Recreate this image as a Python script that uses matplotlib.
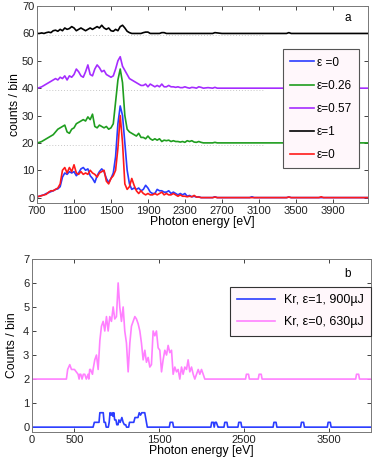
#!/usr/bin/env python3
"""Photon energy spectra, two panels (a: ellipticity scan, b: Kr)."""

import matplotlib.pyplot as plt

plt.rcParams["font.family"] = ["Liberation Sans", "DejaVu Sans"]
plt.rcParams["font.size"] = 8

# ---- panel a: 25 eV grid from 700 to 2500 eV, then sparse tail points
energy_a = list(range(700, 2501, 25))
tail_a = [2550, 2600, 2625, 2650, 2700, 3000, 3025, 3050,
          3400, 3425, 3450, 3750, 3775, 3800, 4280]

eps0_blue = [0.3, 0.5, 0.8, 1.0, 1.5, 1.8, 2.2, 2.5, 3.0, 3.2,
             4.0, 7.5, 9.0, 8.5, 9.5, 9.0, 9.5, 8.0, 9.0, 10.5,
             11.0, 10.0, 10.5, 8.0, 7.0, 5.5, 8.0, 9.5, 10.5, 9.5,
             7.0, 5.5, 7.0, 9.0, 15.0, 27.0, 33.5, 30.0, 20.0, 10.0,
             5.0, 3.0, 3.5, 3.0, 3.5, 2.5, 3.0, 4.5, 3.5, 2.0,
             1.5, 1.5, 3.0, 2.5, 2.5, 2.0, 2.0, 2.5, 1.5, 2.0,
             1.5, 1.0, 1.5, 1.0, 1.5, 0.5, 0.8, 0.3, 0.5, 0.2,
             0.3, 0.0, 0.0]
eps0_blue_tail = [0, 0, 0.3, 0, 0, 0, 0.3, 0, 0, 0.2, 0, 0, 0, 0, 0]

eps026 = [20.0, 20.2, 20.5, 21.0, 21.5, 22.0, 22.5, 23.0, 24.0, 25.0,
          25.5, 26.0, 26.5, 24.0, 23.5, 25.0, 25.5, 27.0, 27.5, 28.0,
          28.5, 28.0, 29.5, 28.5, 30.5, 26.0, 25.5, 26.5, 26.0, 25.5,
          26.0, 25.0, 25.5, 27.0, 35.0, 43.0, 47.0, 42.0, 30.0, 25.0,
          24.0, 23.5, 23.0, 22.5, 23.5, 22.0, 22.0, 21.5, 22.5, 21.5,
          21.0, 21.5, 21.0, 21.5, 20.5, 21.0, 20.8, 21.0, 20.5, 20.8,
          20.5, 20.5, 20.3, 20.5, 20.2, 20.8, 20.5, 20.8, 20.3, 20.2,
          20.5, 20.2, 20.0]
eps026_tail = [20, 20, 20.2, 20, 20, 20, 20, 20, 20, 20.2, 20, 20, 20, 20, 20]

eps057 = [40.0, 40.2, 40.5, 41.0, 41.5, 42.0, 42.5, 43.0, 43.5, 43.0,
          44.0, 43.5, 44.5, 43.0, 44.5, 44.0, 45.0, 47.0, 46.0, 44.5,
          44.0, 46.0, 48.5, 45.0, 44.5, 47.0, 48.5, 47.5, 46.0, 46.5,
          45.0, 44.5, 44.0, 44.5, 47.0, 50.0, 51.5, 48.0, 46.5, 45.0,
          43.5, 43.0, 42.5, 42.0, 41.5, 41.0, 41.0, 41.5, 40.5, 41.5,
          41.0, 40.5, 41.0, 40.5, 41.5, 40.5, 40.5, 41.0, 40.5, 40.5,
          40.3, 40.5, 40.2, 40.2, 40.5, 40.2, 40.0, 40.3, 40.2, 40.0,
          40.5, 40.3, 40.0]
eps057_tail = [40.2, 40, 40.3, 40, 40, 40, 40, 40, 40, 40.2, 40, 40, 40, 40, 40]

eps1 = [60.0, 60.0, 60.2, 60.0, 60.3, 60.5, 60.3, 61.0, 61.2, 60.8,
        61.5, 61.0, 62.0, 61.5, 61.8, 62.5, 62.0, 61.0, 61.5, 62.0,
        61.5, 61.0, 61.5, 62.0, 61.5, 62.0, 62.5, 62.0, 63.0, 62.0,
        61.5, 62.0, 61.0, 60.8, 61.5, 61.0, 62.5, 63.0, 62.0, 60.8,
        60.3, 60.0, 60.0, 60.0, 60.0, 60.0, 60.3, 60.5, 60.5, 60.0,
        60.0, 60.0, 60.0, 60.0, 60.3, 60.3, 60.0, 60.0, 60.0, 60.0,
        60.0, 60.0, 60.0, 60.0, 60.0, 60.0, 60.0, 60.0, 60.0, 60.0,
        60.0, 60.0, 60.0]
eps1_tail = [60, 60, 60.3, 60.2, 60, 60, 60, 60, 60, 60.3, 60, 60, 60, 60, 60]

eps0_red = [0.3, 0.5, 0.7, 1.0, 1.2, 2.0, 2.5, 2.5, 3.0, 3.5,
            5.0, 10.0, 11.0, 9.0, 11.0, 9.5, 12.0, 9.0, 8.5, 9.5,
            8.5, 9.0, 8.5, 10.0, 9.0, 8.5, 7.5, 9.0, 9.5, 10.0,
            6.0, 5.0, 7.0, 8.0, 10.0, 18.0, 30.0, 20.0, 5.0, 3.0,
            4.0, 7.0, 4.5, 2.5, 1.5, 2.5, 1.5, 1.0, 1.5, 1.0,
            1.0, 1.5, 1.0, 1.5, 2.0, 1.0, 1.5, 1.0, 1.0, 1.5,
            1.0, 0.5, 1.0, 0.5, 0.5, 0.3, 0.5, 0.3, 0.8, 0.2,
            0.2, 0.0, 0.0]
eps0_red_tail = [0, 0, 0.2, 0, 0, 0, 0, 0, 0, 0.2, 0, 0, 0.3, 0, 0]

series_a = [
    (eps0_blue, eps0_blue_tail, "#2a3cff", "ε =0"),
    (eps026, eps026_tail, "#1f9e1f", "ε=0.26"),
    (eps057, eps057_tail, "#a52cff", "ε=0.57"),
    (eps1, eps1_tail, "black", "ε=1"),
    (eps0_red, eps0_red_tail, "#ff1a1a", "ε=0"),
]
baselines_a = [20, 40, 60]

# ---- panel b: Kr histograms (vertices of the step-like traces)
kr1_x = [0, 720, 735, 790, 800, 840, 850, 865, 875, 900, 910, 920, 935, 945,
         955, 965, 975, 990, 1000, 1015, 1025, 1040, 1060, 1075, 1090, 1105,
         1115, 1140, 1150, 1200, 1215, 1250, 1265, 1280, 1295, 1330, 1345,
         1360, 1620, 1630, 1660, 1670, 2110, 2120, 2140, 2150, 2160, 2175,
         2195, 2205, 2265, 2275, 2300, 2310, 2430, 2440, 2465, 2475, 2845,
         2855, 2880, 2890, 3170, 3180, 3205, 3215, 3485, 3495, 3520, 3530, 4000]
kr1_y = [0, 0, 0.2, 0.2, 0.6, 0.6, 0.2, 0.2, 0, 0, 0.2, 0.6, 0.5, 0.6,
         0.45, 0.6, 0.3, 0.3, 0.1, 0.1, 0.3, 0.2, 0.4, 0.2, 0.1, 0.1,
         0, 0, 0.2, 0.2, 0.4, 0.4, 0.6, 0.5, 0.6, 0.6, 0.3,
         0, 0, 0.2, 0.2, 0, 0, 0.2, 0.2, 0, 0.2, 0.2,
         0, 0, 0, 0.2, 0.2, 0, 0, 0.2, 0.2, 0, 0,
         0.2, 0.2, 0, 0, 0.2, 0.2, 0, 0, 0.2, 0.2, 0, 0]

kr0_x = [0, 405, 420, 445, 465, 484, 500, 543, 555, 563, 575, 590, 605, 622,
         640, 661, 670, 680, 689, 713, 720, 740, 760, 780, 800, 819, 839, 858,
         878, 898, 917, 937, 957, 976, 996, 1016, 1035, 1055, 1075, 1094, 1114,
         1134, 1154, 1173, 1193, 1213, 1232, 1252, 1272, 1291, 1311, 1331, 1350,
         1370, 1390, 1409, 1429, 1449, 1468, 1488, 1508, 1528, 1547, 1567, 1587,
         1606, 1626, 1646, 1665, 1685, 1705, 1724, 1744, 1764, 1783, 1803, 1823,
         1842, 1862, 1882, 1902, 1921, 1941, 1961, 1980, 2000, 2020, 2039,
         2520, 2530, 2555, 2565, 2670, 2680, 2705, 2715, 3820, 3830, 3855, 3865,
         4000]
kr0_y = [2.0, 2.0, 2.4, 2.6, 2.4, 2.4, 2.4, 2.2, 2.0, 2.2, 2.2, 2.0, 2.2, 2.2,
         2.0, 2.2, 2.0, 2.4, 2.4, 2.2, 2.4, 2.8, 3.0, 2.4, 3.6, 4.2, 4.4, 4.0,
         4.6, 4.0, 4.6, 4.4, 5.0, 4.5, 4.6, 6.0, 5.0, 4.4, 5.0, 4.0, 3.5,
         2.3, 3.5, 4.2, 4.4, 4.6, 4.5, 4.3, 4.0, 3.5, 2.8, 3.2, 2.7,
         2.9, 2.5, 2.6, 4.0, 3.8, 4.0, 3.3, 3.2, 2.3, 2.8, 3.2, 3.0,
         3.4, 3.1, 3.2, 2.2, 2.5, 2.3, 2.4, 2.0, 2.5, 2.2, 2.5, 2.4,
         2.8, 2.3, 2.5, 2.2, 2.0, 2.2, 2.4, 2.2, 2.4, 2.2, 2.0,
         2.0, 2.2, 2.2, 2.0, 2.0, 2.2, 2.2, 2.0, 2.0, 2.2, 2.2, 2.0,
         2.0]

legend_face = "#fff7fb"

fig = plt.figure(figsize=(3.82, 4.69), dpi=100)

# ---------------- panel a
ax = fig.add_axes([0.097, 0.567, 0.866, 0.420])
for base in baselines_a:
    ax.plot([800, 3150], [base - 0.6, base - 0.6], color="#c8c8c8",
            ls=(0, (1, 2)), lw=0.7, zorder=1)
for vals, tail, col, lab in series_a:
    ax.plot(energy_a + tail_a, vals + tail, color=col, lw=1.2, label=lab, zorder=2)
ax.set_xlim(700, 4280)
ax.set_ylim(-2, 70)
ax.set_xticks(range(700, 4000, 400))
ax.set_yticks(range(0, 71, 10))
ax.set_xlabel("Photon energy [eV]", fontsize=8.8, labelpad=0)
ax.set_ylabel("counts / bin", fontsize=8.8, labelpad=1)
ax.text(0.94, 0.94, "a", transform=ax.transAxes, ha="center", va="center", fontsize=8.5)
leg = ax.legend(loc="upper left", bbox_to_anchor=(0.743, 0.78), fontsize=8.5,
                handlelength=2.0, labelspacing=0.95, borderpad=0.6,
                handletextpad=0.3, borderaxespad=0, fancybox=False, framealpha=1)
leg.get_frame().set_facecolor(legend_face)
leg.get_frame().set_edgecolor("#555555")
leg.get_frame().set_linewidth(0.8)

# ---------------- panel b
bx = fig.add_axes([0.084, 0.079, 0.887, 0.369])
bx.plot(kr1_x, kr1_y, color="#2a3cff", lw=1.2, label="Kr, ε=1, 900µJ")
bx.plot(kr0_x, kr0_y, color="#ff80ff", lw=1.2, label="Kr, ε=0, 630µJ")
bx.set_xlim(0, 4000)
bx.set_ylim(-0.2, 7)
bx.set_xticks([0, 500, 1500, 2500, 3500])
bx.set_yticks(range(0, 8))
bx.set_xlabel("Photon energy [eV]", fontsize=8.8, labelpad=0)
bx.set_ylabel("Counts / bin", fontsize=8.8, labelpad=4)
bx.text(0.932, 0.913, "b", transform=bx.transAxes, ha="center", va="center", fontsize=8.5)
leg = bx.legend(loc="upper right", bbox_to_anchor=(1.0, 0.838), fontsize=9,
                handlelength=3.0, labelspacing=0.8, borderpad=0.6,
                handletextpad=0.7, borderaxespad=0, fancybox=False, framealpha=1)
leg.get_frame().set_facecolor(legend_face)
leg.get_frame().set_edgecolor("#333333")
leg.get_frame().set_linewidth(0.8)

for a in (ax, bx):
    a.tick_params(direction="in", top=True, right=True, length=3, width=0.6,
                  colors="#222222", pad=2)
    for s in a.spines.values():
        s.set_color("#777777")
        s.set_linewidth(0.7)

fig.savefig("out.png", dpi=100)
